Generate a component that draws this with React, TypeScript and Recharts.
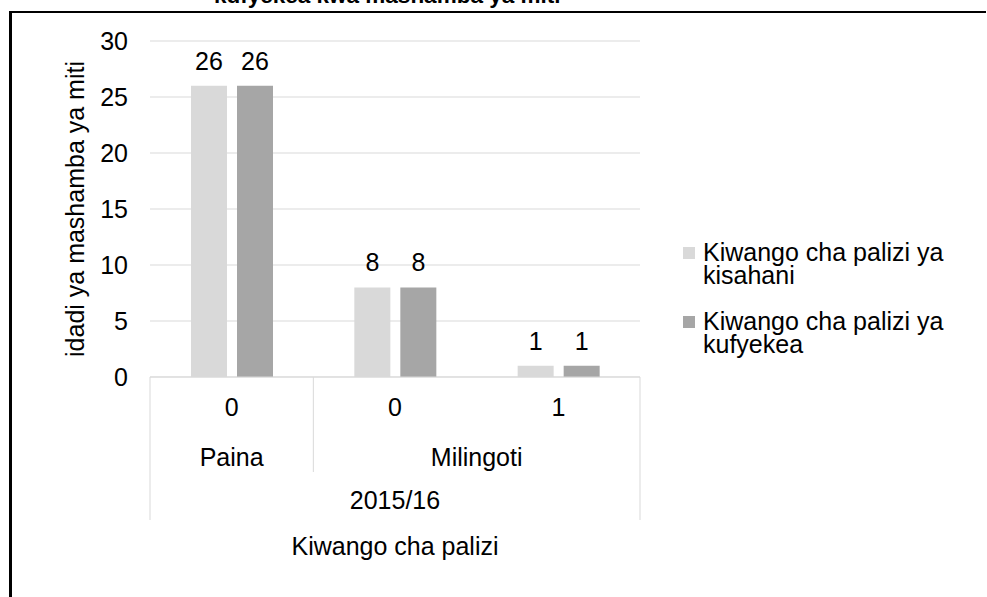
import React from "react";
import { BarChart, Bar, XAxis, YAxis, CartesianGrid, LabelList } from "recharts";

// category levels (innermost first)
const subLabels = ["0", "0", "1"];
const groupLabels = ["Paina", "Milingoti", "Milingoti"];
const periodLabels = ["2015/16", "2015/16", "2015/16"];

const kisahani = [26, 8, 1];
const kufyekea = [26, 8, 1];
const seriesNames = ["Kiwango cha palizi ya kisahani", "Kiwango cha palizi ya kufyekea"];
const seriesColors = ["#d9d9d9", "#a6a6a6"];

const yTicks = [0, 5, 10, 15, 20, 25, 30];
const chartTitle = "kufyekea kwa mashamba ya miti";
const xTitle = "Kiwango cha palizi";
const yTitle = "idadi ya mashamba ya miti";

const W = 987;
const H = 597;
const PLOT_LEFT = 150;
const PLOT_RIGHT = 640;
const PLOT_TOP = 41;
const PLOT_BOTTOM = 377;
const MARGIN_BOTTOM = 47;
const X_AXIS_H = H - PLOT_BOTTOM - MARGIN_BOTTOM;

const FONT = '"Liberation Sans", Arial, sans-serif';
const GRID = "#d9d9d9";

const data = subLabels.map((s, i) => ({
  sub: s,
  group: groupLabels[i],
  period: periodLabels[i],
  kisahani: kisahani[i],
  kufyekea: kufyekea[i],
}));

const spanOf = (labels: string[], i: number) => {
  let n = 1;
  while (i + n < labels.length && labels[i + n] === labels[i]) n++;
  return n;
};

function CategoryTick(props: any) {
  const { x, payload } = props;
  const i: number = payload?.index ?? props.index ?? 0;
  const band = (PLOT_RIGHT - PLOT_LEFT) / subLabels.length;
  const left = x - band / 2;
  const txt = { fontFamily: FONT, fontSize: 25, fill: "#000", textAnchor: "middle" as const };

  const newGroup = i === 0 || groupLabels[i] !== groupLabels[i - 1];
  const newPeriod = i === 0 || periodLabels[i] !== periodLabels[i - 1];
  const last = i === subLabels.length - 1;

  return (
    <g>
      <text x={x} y={416} {...txt}>{subLabels[i]}</text>
      {newPeriod && (
        <line x1={left} x2={left} y1={PLOT_BOTTOM} y2={520} stroke={GRID} />
      )}
      {!newPeriod && newGroup && (
        <line x1={left} x2={left} y1={PLOT_BOTTOM} y2={472} stroke={GRID} />
      )}
      {last && (
        <line x1={left + band} x2={left + band} y1={PLOT_BOTTOM} y2={520} stroke={GRID} />
      )}
      {newGroup && (
        <text x={left + (spanOf(groupLabels, i) * band) / 2} y={466} {...txt}>
          {groupLabels[i]}
        </text>
      )}
      {newPeriod && (
        <text x={left + (spanOf(periodLabels, i) * band) / 2} y={509} {...txt}>
          {periodLabels[i]}
        </text>
      )}
    </g>
  );
}

export default function App() {
  return (
    <div
      style={{
        position: "absolute",
        left: 0,
        top: 0,
        width: W,
        height: H,
        overflow: "hidden",
        background: "#fff",
        fontFamily: FONT,
      }}
    >
      {/* title, clipped by the page top as in the source */}
      <div
        style={{
          position: "absolute",
          left: 214,
          top: -15,
          fontSize: 22.5,
          lineHeight: 1,
          fontWeight: "bold",
          whiteSpace: "nowrap",
          color: "#000",
        }}
      >
        {chartTitle}
      </div>
      {/* outer frame */}
      <div
        style={{
          position: "absolute",
          left: 9,
          top: 11,
          width: 977,
          height: 620,
          borderTop: "2px solid #000",
          borderLeft: "3px solid #000",
          boxSizing: "border-box",
        }}
      />

      <div style={{ position: "absolute", left: 0, top: 0 }}>
        <BarChart
          width={W}
          height={H}
          data={data}
          margin={{ top: PLOT_TOP, right: W - PLOT_RIGHT, bottom: MARGIN_BOTTOM, left: 0 }}
          barSize={36}
          barGap={10}
        >
          <CartesianGrid horizontal vertical={false} stroke={GRID} />
          <XAxis
            dataKey="sub"
            height={X_AXIS_H}
            interval={0}
            tickLine={false}
            axisLine={{ stroke: GRID }}
            tick={<CategoryTick />}
            label={{
              value: xTitle,
              position: "insideBottom",
              offset: -5,
              style: { fontFamily: FONT, fontSize: 25, fill: "#000" },
            }}
          />
          <YAxis
            width={PLOT_LEFT}
            domain={[0, 30]}
            ticks={yTicks}
            tickLine={false}
            axisLine={false}
            tickMargin={16}
            tick={{ fontFamily: FONT, fontSize: 25, fill: "#000" }}
            label={{
              value: yTitle,
              angle: -90,
              position: "insideLeft",
              offset: 75,
              style: { textAnchor: "middle", fontFamily: FONT, fontSize: 25, fill: "#000" },
            }}
          />
          <Bar dataKey="kisahani" name={seriesNames[0]} fill={seriesColors[0]} isAnimationActive={false}>
            <LabelList dataKey="kisahani" position="top" offset={16} fill="#000" fontSize={25} fontFamily={FONT} />
          </Bar>
          <Bar dataKey="kufyekea" name={seriesNames[1]} fill={seriesColors[1]} isAnimationActive={false}>
            <LabelList dataKey="kufyekea" position="top" offset={16} fill="#000" fontSize={25} fontFamily={FONT} />
          </Bar>
        </BarChart>
      </div>

      {/* legend */}
      <div style={{ position: "absolute", left: 683, top: 241, fontSize: 25, lineHeight: "23px", color: "#000" }}>
        {seriesNames.map((name, i) => (
          <div key={name} style={{ display: "flex", alignItems: "flex-start", marginBottom: 23 }}>
            <div style={{ width: 12, height: 12, marginTop: 6, marginRight: 8, background: seriesColors[i], flexShrink: 0 }} />
            <div style={{ width: 260 }}>{name}</div>
          </div>
        ))}
      </div>
    </div>
  );
}
